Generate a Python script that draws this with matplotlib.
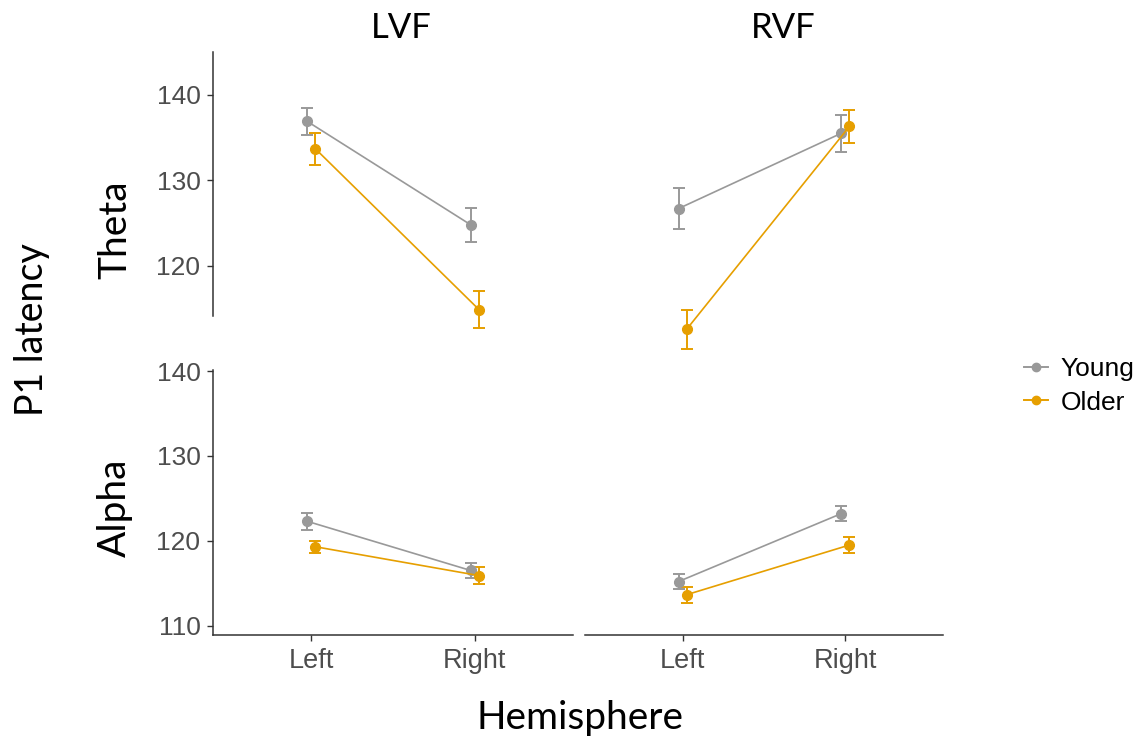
import matplotlib
matplotlib.use("Agg")
import matplotlib.pyplot as plt
from matplotlib.lines import Line2D
import numpy as np

# ── Data ──────────────────────────────────────────────────────────────────────
hemispheres = ["Left", "Right"]
fields = ["LVF", "RVF"]
groups = ["Young", "Older"]

# rows: LVF, RVF ; columns: Left, Right hemisphere
theta_young = [[136.9, 124.8], [126.7, 135.5]]
theta_young_se = [[1.6, 2.0], [2.35, 2.15]]
theta_older = [[133.7, 114.9], [112.6, 136.3]]
theta_older_se = [[1.85, 2.2], [2.3, 1.9]]

alpha_young = [[122.3, 116.5], [115.2, 123.2]]
alpha_young_se = [[1.0, 0.9], [0.9, 0.9]]
alpha_older = [[119.3, 115.9], [113.65, 119.5]]
alpha_older_se = [[0.7, 1.05], [0.95, 0.9]]

# ── Styling ───────────────────────────────────────────────────────────────────
YOUNG_COLOR = "#999999"
OLDER_COLOR = "#E69F00"
AXIS_COLOR = "#333333"
TICK_LABEL_COLOR = "#4D4D4D"
TITLE_FONT = ["Lato", "DejaVu Sans"]
TICK_FONT = ["Liberation Sans", "DejaVu Sans"]
DODGE = 0.025

W, H = 1144, 751
fig = plt.figure(figsize=(W / 100, H / 100), dpi=100)
fig.patch.set_facecolor("white")


def px_axes(x0, y0, x1, y1):
    """Axes from pixel box (top-left origin)."""
    return fig.add_axes([x0 / W, 1 - y1 / H, (x1 - x0) / W, (y1 - y0) / H])


def draw_panel(ax, young, young_se, older, older_se):
    x = np.arange(1, len(hemispheres) + 1)
    for vals, se, col, off in [
        (young, young_se, YOUNG_COLOR, -DODGE),
        (older, older_se, OLDER_COLOR, DODGE),
    ]:
        ax.errorbar(x + off, vals, yerr=se, color=col, marker="o",
                    markersize=7, linewidth=1.2, elinewidth=1.4,
                    capsize=4, capthick=1.4, clip_on=False)
    ax.set_xlim(0.4, 2.6)
    ax.set_facecolor("none")
    for s in ("top", "right"):
        ax.spines[s].set_visible(False)
    for s in ("left", "bottom"):
        ax.spines[s].set_color(AXIS_COLOR)
        ax.spines[s].set_linewidth(1.1)
    ax.tick_params(colors=AXIS_COLOR, length=4, width=1.0, pad=5)


boxes_x = [(213, 573), (585, 943)]
theta_sets = [(theta_young[i], theta_young_se[i], theta_older[i], theta_older_se[i]) for i in range(2)]
alpha_sets = [(alpha_young[i], alpha_young_se[i], alpha_older[i], alpha_older_se[i]) for i in range(2)]

for i, (x0, x1) in enumerate(boxes_x):
    # Theta row
    ax = px_axes(x0, 52, x1, 360)
    draw_panel(ax, *theta_sets[i])
    ax.set_ylim(109.0, 145.0)
    ax.spines["bottom"].set_visible(False)
    ax.set_xticks([])
    if i == 0:
        ax.spines["left"].set_bounds(114.1, 145.0)
        ax.set_yticks([120, 130, 140])
        ax.set_yticklabels(["120", "130", "140"], fontsize=19,
                           color=TICK_LABEL_COLOR, family=TICK_FONT)
    else:
        ax.spines["left"].set_visible(False)
        ax.set_yticks([])

    # Alpha row
    ax = px_axes(x0, 370, x1, 635)
    draw_panel(ax, *alpha_sets[i])
    ax.set_ylim(108.9, 140.12)
    ax.set_xticks([1, 2])
    ax.set_xticklabels(hemispheres, fontsize=19.5, color=TICK_LABEL_COLOR,
                       family=TICK_FONT)
    if i == 0:
        ax.set_yticks([110, 120, 130, 140])
        ax.set_yticklabels(["110", "120", "130", "140"], fontsize=19,
                           color=TICK_LABEL_COLOR, family=TICK_FONT)
    else:
        ax.spines["left"].set_visible(False)
        ax.set_yticks([])

# Strip / row / axis labels
fig.text(401 / W, 1 - 28 / H, fields[0], ha="center", va="center",
         fontsize=25, family=TITLE_FONT, color="black")
fig.text(783 / W, 1 - 28 / H, fields[1], ha="center", va="center",
         fontsize=25, family=TITLE_FONT, color="black")
fig.text(115 / W, 1 - 230 / H, "Theta", ha="center", va="center",
         rotation=90, fontsize=28, family=TITLE_FONT, color="black")
fig.text(115 / W, 1 - 508 / H, "Alpha", ha="center", va="center",
         rotation=90, fontsize=28, family=TITLE_FONT, color="black")
fig.text(32 / W, 1 - 330 / H, "P1 latency", ha="center", va="center",
         rotation=90, fontsize=27, family=TITLE_FONT, color="black")
fig.text(580 / W, 1 - 718 / H, "Hemisphere", ha="center", va="center",
         fontsize=28, family=TITLE_FONT, color="black")

handles = [Line2D([], [], color=c, marker="o", markersize=6, linewidth=1.4)
           for c in (YOUNG_COLOR, OLDER_COLOR)]
fig.legend(handles, groups, loc="center left",
           bbox_to_anchor=(1024 / W, 1 - 386 / H), frameon=False,
           borderpad=0, borderaxespad=0,
           handlelength=0.9, handletextpad=0.5, labelspacing=0.35,
           prop={"family": TICK_FONT, "size": 19})

fig.savefig("out.png", dpi=100, facecolor="white")
